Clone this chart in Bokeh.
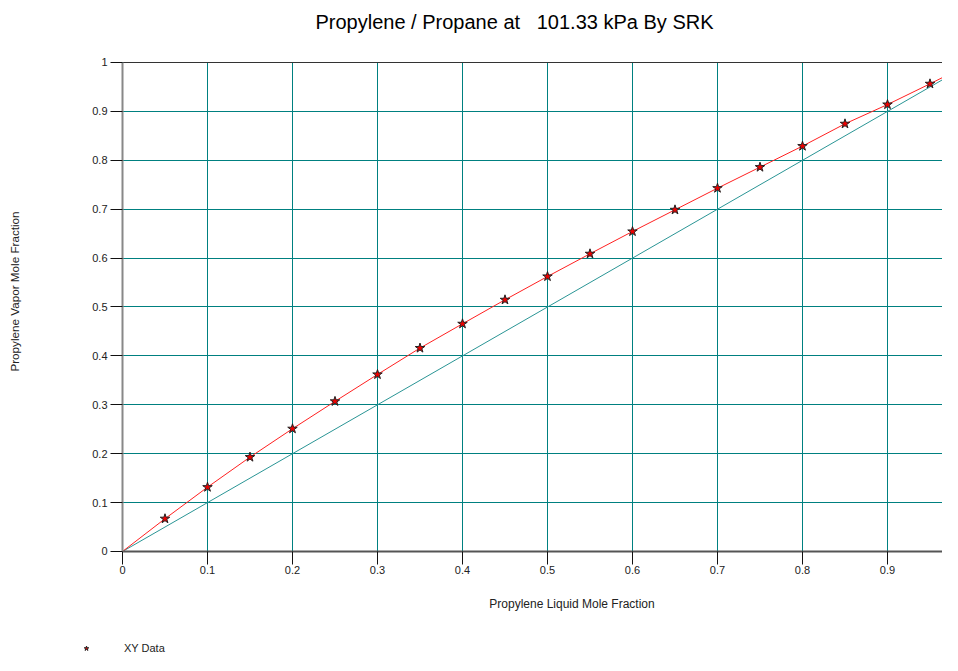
import math
from bokeh.plotting import figure
from bokeh.models import (Range1d, FixedTicker, Legend, LegendItem, Label,
                          CustomJSTickFormatter, ColumnDataSource, Grid)
from bokeh.embed import file_html
from bokeh.resources import INLINE

# ---- data ----
liquid_x = [0.05, 0.10, 0.15, 0.20, 0.25, 0.30, 0.35, 0.40, 0.45, 0.50,
            0.55, 0.60, 0.65, 0.70, 0.75, 0.80, 0.85, 0.90, 0.95]
vapor_y = [0.067, 0.1315, 0.193, 0.251, 0.307, 0.362, 0.416, 0.4656, 0.5147, 0.5624,
           0.6088, 0.6544, 0.6987, 0.743, 0.786, 0.829, 0.8746, 0.914, 0.9564]
curve_x = [0.0] + liquid_x + [1.0]
curve_y = [0.0] + vapor_y + [1.0]
diag_x = [0.0, 1.0]
diag_y = [0.0, 1.0]
tick_values = [0, 0.1, 0.2, 0.3, 0.4, 0.5, 0.6, 0.7, 0.8, 0.9, 1.0]
top_value = [1.0]

title_text = "Propylene / Propane at\u00a0\u00a0 101.33 kPa By SRK"
x_label_text = "Propylene Liquid Mole Fraction"
y_label_text = "Propylene Vapor Mole Fraction"
legend_text = "XY Data"

FONT = "Liberation Sans"
TEAL = "#008080"

# the frame covers the whole figure; axes sit at x=0 / y=0
p = figure(width=942, height=655, output_backend="svg", toolbar_location=None,
           x_range=Range1d(-0.143529, 0.964706),
           y_range=Range1d(-0.212679, 1.126789),
           min_border_left=0, min_border_right=0, min_border_top=0,
           min_border_bottom=0)
p.title.visible = False
p.outline_line_color = None
p.background_fill_color = "white"
p.border_fill_color = "white"

fmt = CustomJSTickFormatter(code="return String(Math.round(tick*10)/10)")
for ax in (p.xaxis[0], p.yaxis[0]):
    ax.ticker = FixedTicker(ticks=tick_values)
    ax.formatter = fmt
    ax.fixed_location = 0
    ax.bounds = (0, 1)
    ax.major_label_text_font = FONT
    ax.major_label_text_font_size = "11px"
    ax.major_label_text_color = "#222222"
    ax.minor_tick_line_color = None
    ax.major_tick_in = 0
    ax.major_tick_line_color = "#111111"
p.xaxis[0].major_tick_out = 13
p.xaxis[0].major_label_standoff = 2
p.xaxis[0].axis_line_color = "#555555"
p.xaxis[0].axis_line_width = 2
p.yaxis[0].major_tick_out = 12
p.yaxis[0].major_label_standoff = 3
p.yaxis[0].axis_line_color = "#888888"
p.yaxis[0].axis_line_width = 2

for g in (p.xgrid[0], p.ygrid[0]):
    g.grid_line_color = TEAL
    g.grid_line_width = 1
    g.bounds = (0, 1)
    g.cross_bounds = (0, 1)

top_line = Grid(dimension=1, ticker=FixedTicker(ticks=top_value),
                grid_line_color="#333333", grid_line_width=1,
                bounds=(0, 1), cross_bounds=(0, 1))
p.add_layout(top_line)

p.line(diag_x, diag_y, line_color="#2a9595", line_width=1)
p.line(curve_x, curve_y, line_color="#ff2020", line_width=1)
src = ColumnDataSource(dict(x=liquid_x, y=vapor_y))
pts = p.scatter("x", "y", source=src, marker="star", size=10,
                fill_color="#ee0000", line_color="#222222", line_width=1)

p.add_layout(Label(x=0.46118, y=1.0818, text=title_text, text_font=FONT,
                   text_font_size="20px", text_align="center",
                   text_baseline="middle", text_color="black"))
p.add_layout(Label(x=0.52882, y=-0.10838, text=x_label_text, text_font=FONT,
                   text_font_size="12px", text_align="center",
                   text_baseline="middle", text_color="#222222"))
p.add_layout(Label(x=-0.12706, y=0.5317, text=y_label_text, text_font=FONT,
                   text_font_size="11.7px", text_align="center",
                   text_baseline="middle", angle=math.pi / 2,
                   text_color="#222222"))

legend = Legend(items=[LegendItem(label=legend_text, renderers=[pts])],
                location=(79, 1), padding=0, margin=0, spacing=0,
                glyph_width=14, glyph_height=12, label_standoff=31,
                label_height=12,
                border_line_color=None, background_fill_alpha=0,
                label_text_font=FONT, label_text_font_size="11px",
                label_text_color="#222222")
p.add_layout(legend, "center")

open("out.html", "w").write(file_html(p, INLINE))
